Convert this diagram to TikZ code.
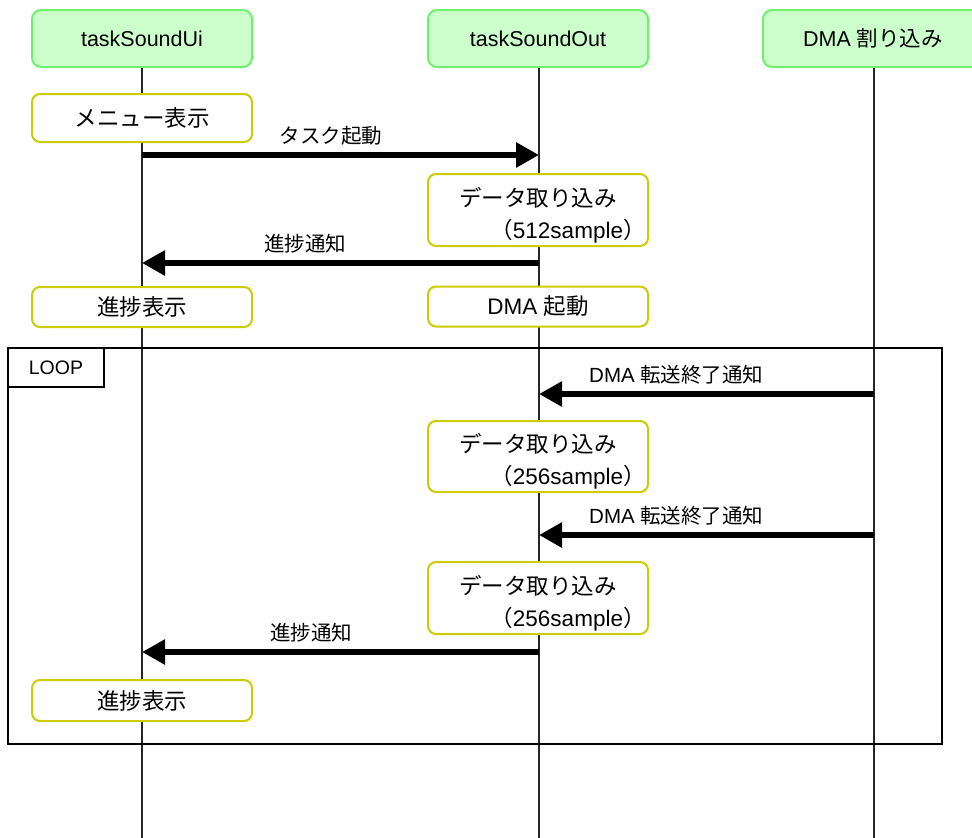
\documentclass[tikz,border=0pt]{standalone}
\usepackage{fontspec}
\setmainfont{Liberation Sans}
\newfontfamily\jp{Noto Sans CJK JP}
\usetikzlibrary{arrows.meta}
\definecolor{hdrfill}{RGB}{204,255,204}
\definecolor{hdrline}{RGB}{110,240,110}
\definecolor{actline}{RGB}{204,204,0}
\tikzset{
  header/.style={draw=hdrline, fill=hdrfill, line width=2pt, rounded corners=9pt,
    minimum width=220pt, minimum height=57pt, inner sep=0pt,
    font=\fontsize{21.5}{26}\selectfont},
  action/.style={draw=actline, fill=white, line width=2pt, rounded corners=8pt,
    minimum width=220pt, inner sep=0pt, font=\fontsize{22.5}{27}\selectfont},
  acttext/.style={inner sep=0pt, align=center, font=\fontsize{22.5}{32}\selectfont},
  lifeline/.style={line width=1.6pt, black!85},
  msg/.style={line width=6.5pt, -{Triangle[length=23pt,width=24pt]}},
  msglabel/.style={font=\fontsize{20.5}{24}\selectfont, yshift=19pt},
  frame/.style={draw, line width=1.6pt},
}
\begin{document}
\begin{tikzpicture}[x=1pt,y=-1pt]
\useasboundingbox (0,0) rectangle (972,838);

% participants
\node[header] (ui)  at (142,38.5) {taskSoundUi};
\node[header] (out) at (538,38.5) {taskSoundOut};
\node[header] (dma) at (873,38.5) {DMA {\jp 割り込み}};

% lower ends of the lifelines
\coordinate (uiEnd)  at (142,838);
\coordinate (outEnd) at (539,838);
\coordinate (dmaEnd) at (874,838);

\draw[lifeline] (ui.south -| uiEnd) -- (uiEnd);
\draw[lifeline] (out.south -| outEnd) -- (outEnd);
\draw[lifeline] (dma.south -| dmaEnd) -- (dmaEnd);

% loop frame
\node[frame, minimum width=934pt, minimum height=396pt, inner sep=0pt] (loop) at (475,546) {};
\node[frame, fill=white, minimum width=96pt, minimum height=39pt, inner sep=0pt,
      font=\fontsize{19.5}{23}\selectfont] (looptag) at (56,367.5) {LOOP};

% activities
\node[action, minimum height=48pt] (menu) at (142,118) {\jp メニュー表示};
\node[action, minimum height=72pt] (load1) at (538,210) {};
\node[acttext] (load1t) at ([yshift=-5pt]load1.center)
  {{\jp データ取り込み}\\\hspace*{60pt}{\jp （}512sample{\jp ）}};
\node[action, minimum height=40pt] (prog1) at (142,307) {\jp 進捗表示};
\node[action, minimum height=40pt] (dmastart) at (538,306.5) {DMA {\jp 起動}};
\node[action, minimum height=71pt] (load2) at (538,456.5) {};
\node[acttext] (load2t) at ([yshift=-5pt]load2.center)
  {{\jp データ取り込み}\\\hspace*{60pt}{\jp （}256sample{\jp ）}};
\node[action, minimum height=72pt] (load3) at (538,598) {};
\node[acttext] (load3t) at ([yshift=-5pt]load3.center)
  {{\jp データ取り込み}\\\hspace*{60pt}{\jp （}256sample{\jp ）}};
\node[action, minimum height=41pt] (prog2) at (142,700.5) {\jp 進捗表示};

% message anchor points on the lifelines
\coordinate (m1a) at (142,155);  \coordinate (m1b) at (539,155);
\coordinate (m2a) at (539,263);  \coordinate (m2b) at (142,263);
\coordinate (m3a) at (874,394);  \coordinate (m3b) at (539,394);
\coordinate (m4a) at (874,535);  \coordinate (m4b) at (539,535);
\coordinate (m5a) at (539,652);  \coordinate (m5b) at (142,652);

% messages
\draw[msg] (m1a) -- node[msglabel, pos=0.476] (l1) {\jp タスク起動} (m1b);
\draw[msg] (m2a) -- node[msglabel, pos=0.589] (l2) {\jp 進捗通知} (m2b);
\draw[msg] (m3a) -- node[msglabel, pos=0.59] (l3) {DMA {\jp 転送終了通知}} (m3b);
\draw[msg] (m4a) -- node[msglabel, pos=0.59] (l4) {DMA {\jp 転送終了通知}} (m4b);
\draw[msg] (m5a) -- node[msglabel, pos=0.574] (l5) {\jp 進捗通知} (m5b);
\end{tikzpicture}
\end{document}
